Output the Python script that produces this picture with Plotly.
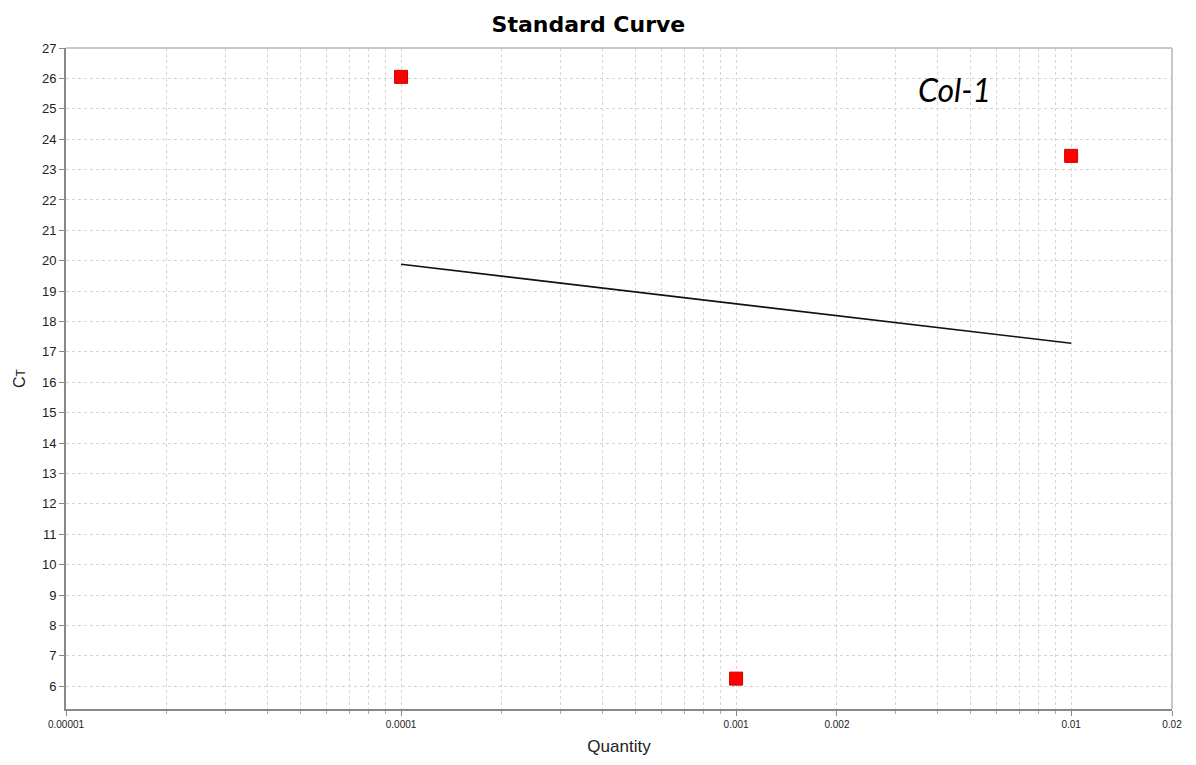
import numpy as np
import plotly.graph_objects as go

# Standard curve samples: quantity vs threshold cycle
quantity = [0.0001, 0.001, 0.01]
ct_values = [26.05, 6.25, 23.45]

# Labelled quantity ticks and axis limits
x_tick_vals = [0.00001, 0.0001, 0.001, 0.002, 0.01, 0.02]
x_tick_text = ["0.00001", "0.0001", "0.001", "0.002", "0.01", "0.02"]
y_tick_vals = list(range(6, 28))

# Least-squares fit of Ct against log10(quantity)
log_q = np.log10(quantity)
slope, intercept = np.polyfit(log_q, ct_values, 1)
fit_x = [min(quantity), max(quantity)]
fit_y = [slope * np.log10(q) + intercept for q in fit_x]

# Minor grid at 1..9 x 10^k within the axis range
minor_vals = [m * 10.0 ** k for k in range(-5, -1) for m in range(1, 10)]
minor_vals = [v for v in minor_vals if v <= 0.02 + 1e-12]

fig = go.Figure()
fig.add_trace(go.Scatter(
    x=fit_x, y=fit_y, mode="lines",
    line=dict(color="#111111", width=1.6),
    showlegend=False, hoverinfo="skip",
))
fig.add_trace(go.Scatter(
    x=quantity, y=ct_values, mode="markers",
    marker=dict(symbol="square", size=13, color="#ff0000",
                line=dict(color="#cc0000", width=1)),
    showlegend=False,
))

grid_color = "#d4d4d4"
grid_dash = "3px,3px"
fig.update_layout(
    width=1196, height=765,
    margin=dict(l=66, r=24, t=48, b=54),
    paper_bgcolor="white", plot_bgcolor="white",
    title=dict(text="<b>Standard Curve</b>", x=0.492, xanchor="center",
               y=0.968, yanchor="middle",
               font=dict(family="DejaVu Sans", size=22, color="#000000")),
    font=dict(family="Arial, Liberation Sans", color="#222222"),
    xaxis=dict(
        type="log", range=[np.log10(0.00001), np.log10(0.02)],
        tickmode="array", tickvals=x_tick_vals, ticktext=x_tick_text,
        tickfont=dict(size=10, color="#222222"),
        ticks="outside", ticklen=5, tickcolor="#888888",
        showgrid=True, gridcolor=grid_color, griddash=grid_dash, gridwidth=1,
        minor=dict(tickmode="array", tickvals=minor_vals, showgrid=True,
                   gridcolor=grid_color, griddash=grid_dash, gridwidth=1,
                   ticks="outside", ticklen=3, tickcolor="#aaaaaa"),
        showline=True, linecolor="#888888", linewidth=2, mirror=False,
        zeroline=False,
        title=dict(text="Quantity", font=dict(size=17, color="#222222"), standoff=11),
    ),
    yaxis=dict(
        range=[5.25, 27.0],
        tickmode="array", tickvals=y_tick_vals,
        tickfont=dict(size=13, color="#222222"),
        ticks="outside", ticklen=5, tickcolor="#888888",
        showgrid=True, gridcolor=grid_color, griddash=grid_dash, gridwidth=1,
        showline=True, linecolor="#888888", linewidth=2,
        zeroline=False,
        title=dict(text="C<span style='font-size:12px'>T</span>",
                   font=dict(size=16, color="#222222"), standoff=12),
    ),
)

# Light frame on the top and right edges of the plot area
fig.add_shape(type="line", xref="paper", yref="paper", x0=0, x1=1, y0=1, y1=1,
              line=dict(color="#c8c8c8", width=2))
fig.add_shape(type="line", xref="paper", yref="paper", x0=1, x1=1, y0=0, y1=1,
              line=dict(color="#c8c8c8", width=2))

fig.add_annotation(
    text="<i>Col-1</i>", xref="paper", yref="paper",
    x=0.803, y=0.937, xanchor="center", yanchor="middle", showarrow=False,
    font=dict(family="Lato, Open Sans", size=32, color="#000000"),
)

fig.write_html("out.html")
